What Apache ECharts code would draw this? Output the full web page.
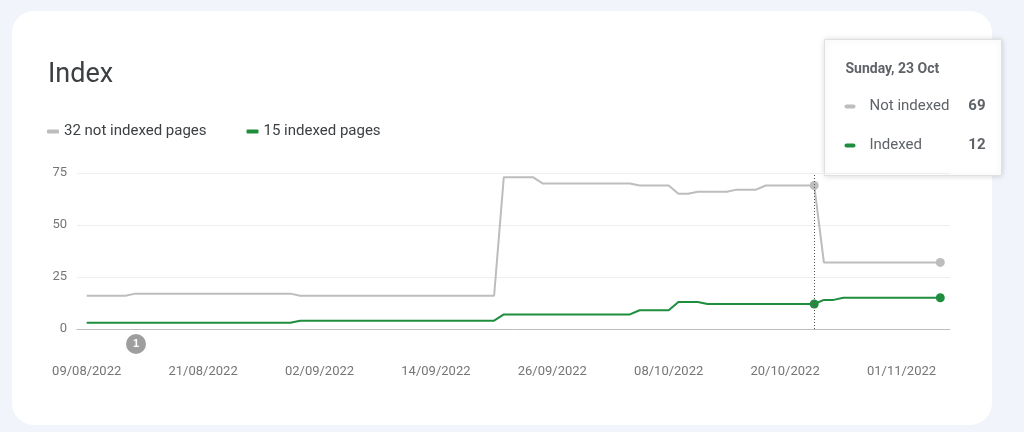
<!DOCTYPE html>
<html><head><meta charset="utf-8">
<script src="https://cdn.jsdelivr.net/npm/echarts@6/dist/echarts.min.js"></script>
<style>html,body{margin:0;background:#f1f4fb;font-family:Roboto,sans-serif}
#card{position:absolute;left:12px;top:11px;width:980px;height:414px;background:#fff;border-radius:22px}
#c{position:absolute;left:0;top:0;width:1024px;height:432px}</style></head>
<body><div id="card"></div><div id="c"></div>
<script>
const startDate = [2022, 8, 9];
const notIndexed = [16,16,16,16,16, 17,17,17,17,17,17,17,17,17,17,17,17,17,17,17,17,17,
 16,16,16,16,16,16,16,16,16,16,16,16,16,16,16,16,16,16,16,16,16,
 73,73,73,73, 70,70,70,70,70,70,70,70,70,70, 69,69,69,69, 65,65, 66,66,66,66, 67,67,67,
 69,69,69,69,69,69, 32,32,32,32,32,32,32,32,32,32,32,32,32];
const indexed = [3,3,3,3,3,3,3,3,3,3,3,3,3,3,3,3,3,3,3,3,3,3,
 4,4,4,4,4,4,4,4,4,4,4,4,4,4,4,4,4,4,4,4,4,
 7,7,7,7,7,7,7,7,7,7,7,7,7,7, 9,9,9,9, 13,13,13, 12,12,12,12,12,12,12,12,12,12,12,12,
 14,14, 15,15,15,15,15,15,15,15,15,15,15];
const yTicks = [0,25,50,75];
const markedDays = [75, 88];
const legendNames = ['32 not indexed pages','15 indexed pages'];

const cats = [''];
for (let i=0;i<notIndexed.length;i++){
  const d = new Date(startDate[0], startDate[1]-1, startDate[2]+i);
  cats.push(String(d.getDate()).padStart(2,'0')+'/'+String(d.getMonth()+1).padStart(2,'0')+'/'+d.getFullYear());
}
cats.push('');
const pad = a => [null, ...a, null];
const marks = markedDays.map(d=>d+1);
const sz = (v,p)=> marks.includes(p.dataIndex)?9:0;

const chart = echarts.init(document.getElementById('c'));
chart.setOption({
  animation:false,
  title:{text:'Index',left:43,top:57,textStyle:{fontSize:27,fontWeight:'normal',color:'#3c4043',fontFamily:'Roboto'}},
  legend:{left:42,top:119,itemWidth:12,itemHeight:4,itemGap:40,icon:'roundRect',
    textStyle:{fontSize:15,color:'#3c4043',fontFamily:'Roboto'},data:legendNames},
  grid:{left:77,right:74,top:173,bottom:103},
  xAxis:{type:'category',data:cats,boundaryGap:false,
    axisLine:{lineStyle:{color:'#bdbdbd'}},axisTick:{show:false},
    axisLabel:{interval:(i)=>i>0&&(i-1)%12===0,margin:36,color:'#757575',fontSize:13,fontFamily:'Roboto'}},
  yAxis:{type:'value',min:0,max:75,interval:25,
    axisLabel:{color:'#757575',fontSize:13,margin:10,fontFamily:'Roboto'},
    splitLine:{lineStyle:{color:'#eeeeee'}}},
  series:[
    {name:legendNames[0],type:'line',data:pad(notIndexed),color:'#bdbdbd',lineStyle:{width:2},
     symbol:'circle',symbolSize:sz,showSymbol:true,
     markLine:{silent:true,symbol:'none',label:{show:false},lineStyle:{color:'#555',type:[1,2],width:1},data:[{xAxis:marks[0]}]}},
    {name:legendNames[1],type:'line',data:pad(indexed),color:'#1e8e3e',lineStyle:{width:2},
     symbol:'circle',symbolSize:sz,showSymbol:true}
  ],
  graphic:[
    {type:'group',left:126,top:334,children:[
      {type:'circle',shape:{cx:10,cy:10,r:10},style:{fill:'#9e9e9e'}},
      {type:'text',x:10,y:10,style:{text:'1',fill:'#fff',fontSize:11,fontWeight:'bold',align:'center',verticalAlign:'middle'}}]},
    {type:'group',left:824,top:39,children:[
      {type:'rect',shape:{x:0,y:0,width:177,height:136},style:{fill:'#fff',stroke:'#e0e0e0',shadowBlur:6,shadowColor:'rgba(0,0,0,0.15)'}},
      {type:'text',x:21,y:30,style:{text:'Sunday, 23 Oct',fontSize:14,fontWeight:'bold',fill:'#5f6368',verticalAlign:'middle',fontFamily:'Roboto'}},
      {type:'rect',shape:{x:20,y:65,width:11,height:4,r:2},style:{fill:'#bdbdbd'}},
      {type:'text',x:45,y:67,style:{text:'Not indexed',fontSize:15,fill:'#5f6368',verticalAlign:'middle',fontFamily:'Roboto'}},
      {type:'text',x:161,y:67,style:{text:'69',fontSize:15,fontWeight:'bold',fill:'#5f6368',align:'right',verticalAlign:'middle',fontFamily:'Roboto'}},
      {type:'rect',shape:{x:20,y:104,width:11,height:4,r:2},style:{fill:'#1e8e3e'}},
      {type:'text',x:45,y:106,style:{text:'Indexed',fontSize:15,fill:'#5f6368',verticalAlign:'middle',fontFamily:'Roboto'}},
      {type:'text',x:161,y:106,style:{text:'12',fontSize:15,fontWeight:'bold',fill:'#5f6368',align:'right',verticalAlign:'middle',fontFamily:'Roboto'}}
    ]}
  ]
});
</script></body></html>
